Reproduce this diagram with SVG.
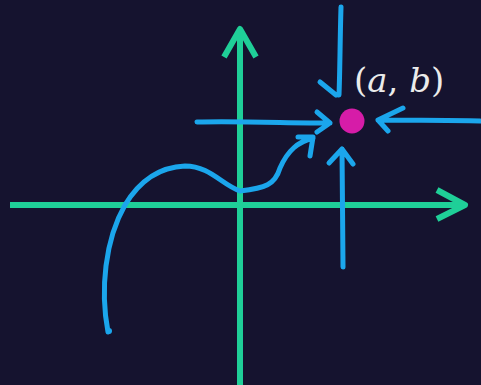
<svg xmlns="http://www.w3.org/2000/svg" width="481" height="385" viewBox="0 0 481 385">
<style>
.axis{fill:none;stroke:#1fcf98;stroke-width:6;stroke-linecap:butt;stroke-linejoin:round}
.ink{fill:none;stroke:#1ba6ec;stroke-width:5;stroke-linecap:round;stroke-linejoin:round}
.lbl{font-family:"DejaVu Serif","Liberation Serif",serif;font-size:34px;fill:#ebebeb}
.it{font-style:italic}
</style>
<rect width="481" height="385" fill="#15132f"/>
<g id="axes">
<path class="axis" d="M10 205 H465"/>
<path class="axis" d="M437 190 L465 205 L437 219" stroke-linecap="round"/>
<path class="axis" d="M240 385 V29"/>
<path class="axis" d="M224 57 L240 29 L256 57" stroke-linecap="round"/>
</g>
<g id="point">
<circle cx="352" cy="121" r="12.5" fill="#d61ca8"/>
<text class="lbl" x="354" y="92">(<tspan class="it">a</tspan>, <tspan class="it">b</tspan>)</text>
</g>
<g id="connectors">
<path class="ink" d="M341 7 C340 40 340 70 339 95 M320 82 L336 95"/>
<path class="ink" d="M197 122 C240 121 290 123 330 123 M317 112 L330 123 L317 132"/>
<path class="ink" d="M480 121 C440 120 410 120 378 120 M403 108 L378 120 L388 131"/>
<path class="ink" d="M343 267 C343 230 342 185 342 149 M329 163 L342 149 L353 164"/>
<path class="ink" d="M108 332 C100 290 105 240 125 205 C140 180 160 167 185 166 C210 166 222 185 240 191 C265 188 275 185 280 168 C288 150 298 142 313 138 M298 137 L313 137 L310 156"/>
<circle cx="109" cy="331" r="3" fill="#1ba6ec"/>
</g>
</svg>
